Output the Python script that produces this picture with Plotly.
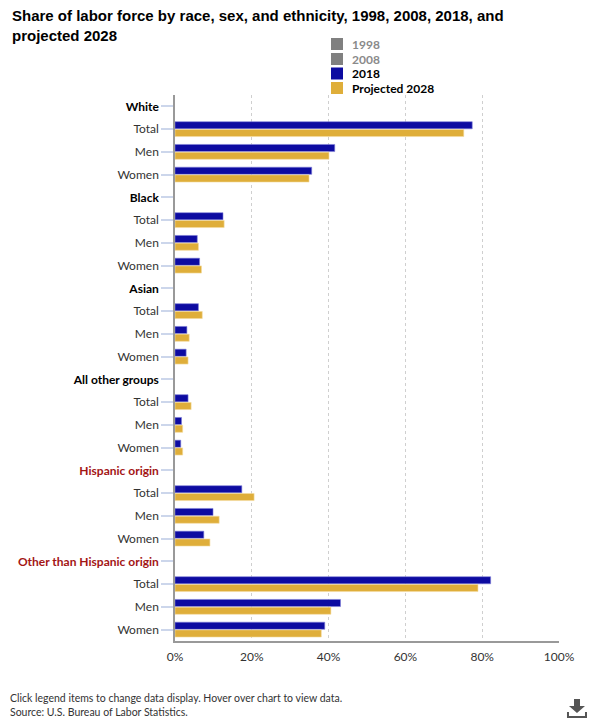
import plotly.graph_objects as go

groups = ["White", "Black", "Asian", "All other groups", "Hispanic origin", "Other than Hispanic origin"]
group_colors = ["#000000", "#000000", "#000000", "#000000", "#a31515", "#a31515"]
subs = ["Total", "Men", "Women"]

# values per group: Total, Men, Women (percent of labor force)
v2018 = {
    "White": [77.4, 41.6, 35.6],
    "Black": [12.5, 5.8, 6.4],
    "Asian": [6.1, 3.1, 2.9],
    "All other groups": [3.4, 1.7, 1.5],
    "Hispanic origin": [17.4, 9.9, 7.5],
    "Other than Hispanic origin": [82.2, 43.1, 39.0],
}
v2028 = {
    "White": [75.2, 40.1, 34.9],
    "Black": [12.8, 6.1, 6.9],
    "Asian": [7.1, 3.7, 3.4],
    "All other groups": [4.2, 2.0, 2.0],
    "Hispanic origin": [20.6, 11.5, 9.1],
    "Other than Hispanic origin": [78.9, 40.6, 38.1],
}
legend_names = ["1998", "2008", "2018", "Projected 2028"]
legend_colors = ["#808080", "#808080", "#0d0ba1", "#dfae3a"]
legend_text_colors = ["#8a8a8a", "#8a8a8a", "#000000", "#000000"]
x_ticks = [0, 20, 40, 60, 80, 100]
x_ticklabels = ["0%", "20%", "40%", "60%", "80%", "100%"]

# build row positions / labels
labels, y18, y28 = [], [], []
for g, c in zip(groups, group_colors):
    labels.append(f"<b><span style='color:{c}'>{g}</span></b>")
    y18.append(None)
    y28.append(None)
    for i, s in enumerate(subs):
        labels.append(s)
        y18.append(v2018[g][i])
        y28.append(v2028[g][i])
pos = list(range(len(labels)))

W, H = 600, 724
L, R, T, B = 175, 41, 95, 83
PW, PH = W - L - R, H - T - B


def px(x):
    return (x - L) / PW


def py(y):
    return (H - B - y) / PH


fig = go.Figure()
fig.add_trace(go.Bar(name="2018", y=pos, x=y18, orientation="h",
                     marker=dict(color="#0d0ba1", line=dict(color="#8080d8", width=0.6))))
fig.add_trace(go.Bar(name="Projected 2028", y=pos, x=y28, orientation="h",
                     marker=dict(color="#dfae3a", line=dict(color="#f3dca0", width=0.6))))

fig.update_layout(
    width=W, height=H,
    margin=dict(l=L, r=R, t=T, b=B, autoexpand=False),
    paper_bgcolor="white", plot_bgcolor="white",
    barmode="group", bargap=0.32, bargroupgap=0.08,
    font=dict(family="Lato, sans-serif", size=12, color="#333333"),
    showlegend=False,
)
fig.update_xaxes(
    range=[0, 100], tickvals=x_ticks, ticktext=x_ticklabels,
    showgrid=True, gridcolor="#cfcfcf", griddash="dot", gridwidth=1,
    showline=True, linecolor="#999999", linewidth=1.5,
    ticks="", zeroline=False, tickfont=dict(size=12, color="#333333"),
    ticklabelstandoff=4,
    automargin=False, fixedrange=True,
)
fig.update_yaxes(
    tickvals=pos, ticktext=labels, range=[len(pos) - 0.5, -0.5],
    showgrid=False, showline=True, linecolor="#999999", linewidth=1.5,
    ticks="outside", ticklen=12, tickcolor="#ccd6eb", tickwidth=1.5,
    zeroline=False, tickfont=dict(size=12, color="#333333"),
    automargin=False, fixedrange=True,
)

# title
fig.add_annotation(
    text="<b>Share of labor force by race, sex, and ethnicity, 1998, 2008, 2018, and<br>projected 2028</b>",
    xref="paper", yref="paper", x=px(10), y=py(5), xanchor="left", yanchor="top",
    align="left", showarrow=False,
    font=dict(family="Liberation Sans, Arial, sans-serif", size=15, color="#000000"),
)

# manual legend
leg_centers = [44, 59, 73.5, 88]
for name, col, tcol, cy in zip(legend_names, legend_colors, legend_text_colors, leg_centers):
    fig.add_shape(type="rect", xref="paper", yref="paper",
                  x0=px(331), x1=px(343), y0=py(cy - 6), y1=py(cy + 6),
                  fillcolor=col, line=dict(width=0))
    fig.add_annotation(text=f"<b>{name}</b>", xref="paper", yref="paper",
                       x=px(350), y=py(cy), xanchor="left", yanchor="middle",
                       showarrow=False, font=dict(family="Lato, sans-serif", size=12, color=tcol))

# footer
fig.add_annotation(
    text="Click legend items to change data display. Hover over chart to view data.<br>Source: U.S. Bureau of Labor Statistics.",
    xref="paper", yref="paper", x=px(8), y=py(690), xanchor="left", yanchor="top",
    align="left", showarrow=False,
    font=dict(family="Lato, sans-serif", size=10.5, color="#333333"),
)

# download icon
arrow = [(574, 699), (580, 699), (580, 706), (585, 706), (577, 713), (569, 706), (574, 706)]
path = "M " + " L ".join(f"{px(a):.4f} {py(b):.4f}" for a, b in arrow) + " Z"
fig.add_shape(type="path", xref="paper", yref="paper", path=path,
              fillcolor="#555555", line=dict(width=0))
tray = [(568, 712), (568, 717), (586, 717), (586, 712)]
path2 = "M " + " L ".join(f"{px(a):.4f} {py(b):.4f}" for a, b in tray)
fig.add_shape(type="path", xref="paper", yref="paper", path=path2,
              line=dict(color="#555555", width=2))

fig.write_html("out.html", config={"displayModeBar": False},
               post_script="document.body.style.margin='0';document.body.style.padding='0';document.body.style.overflow='hidden';")
